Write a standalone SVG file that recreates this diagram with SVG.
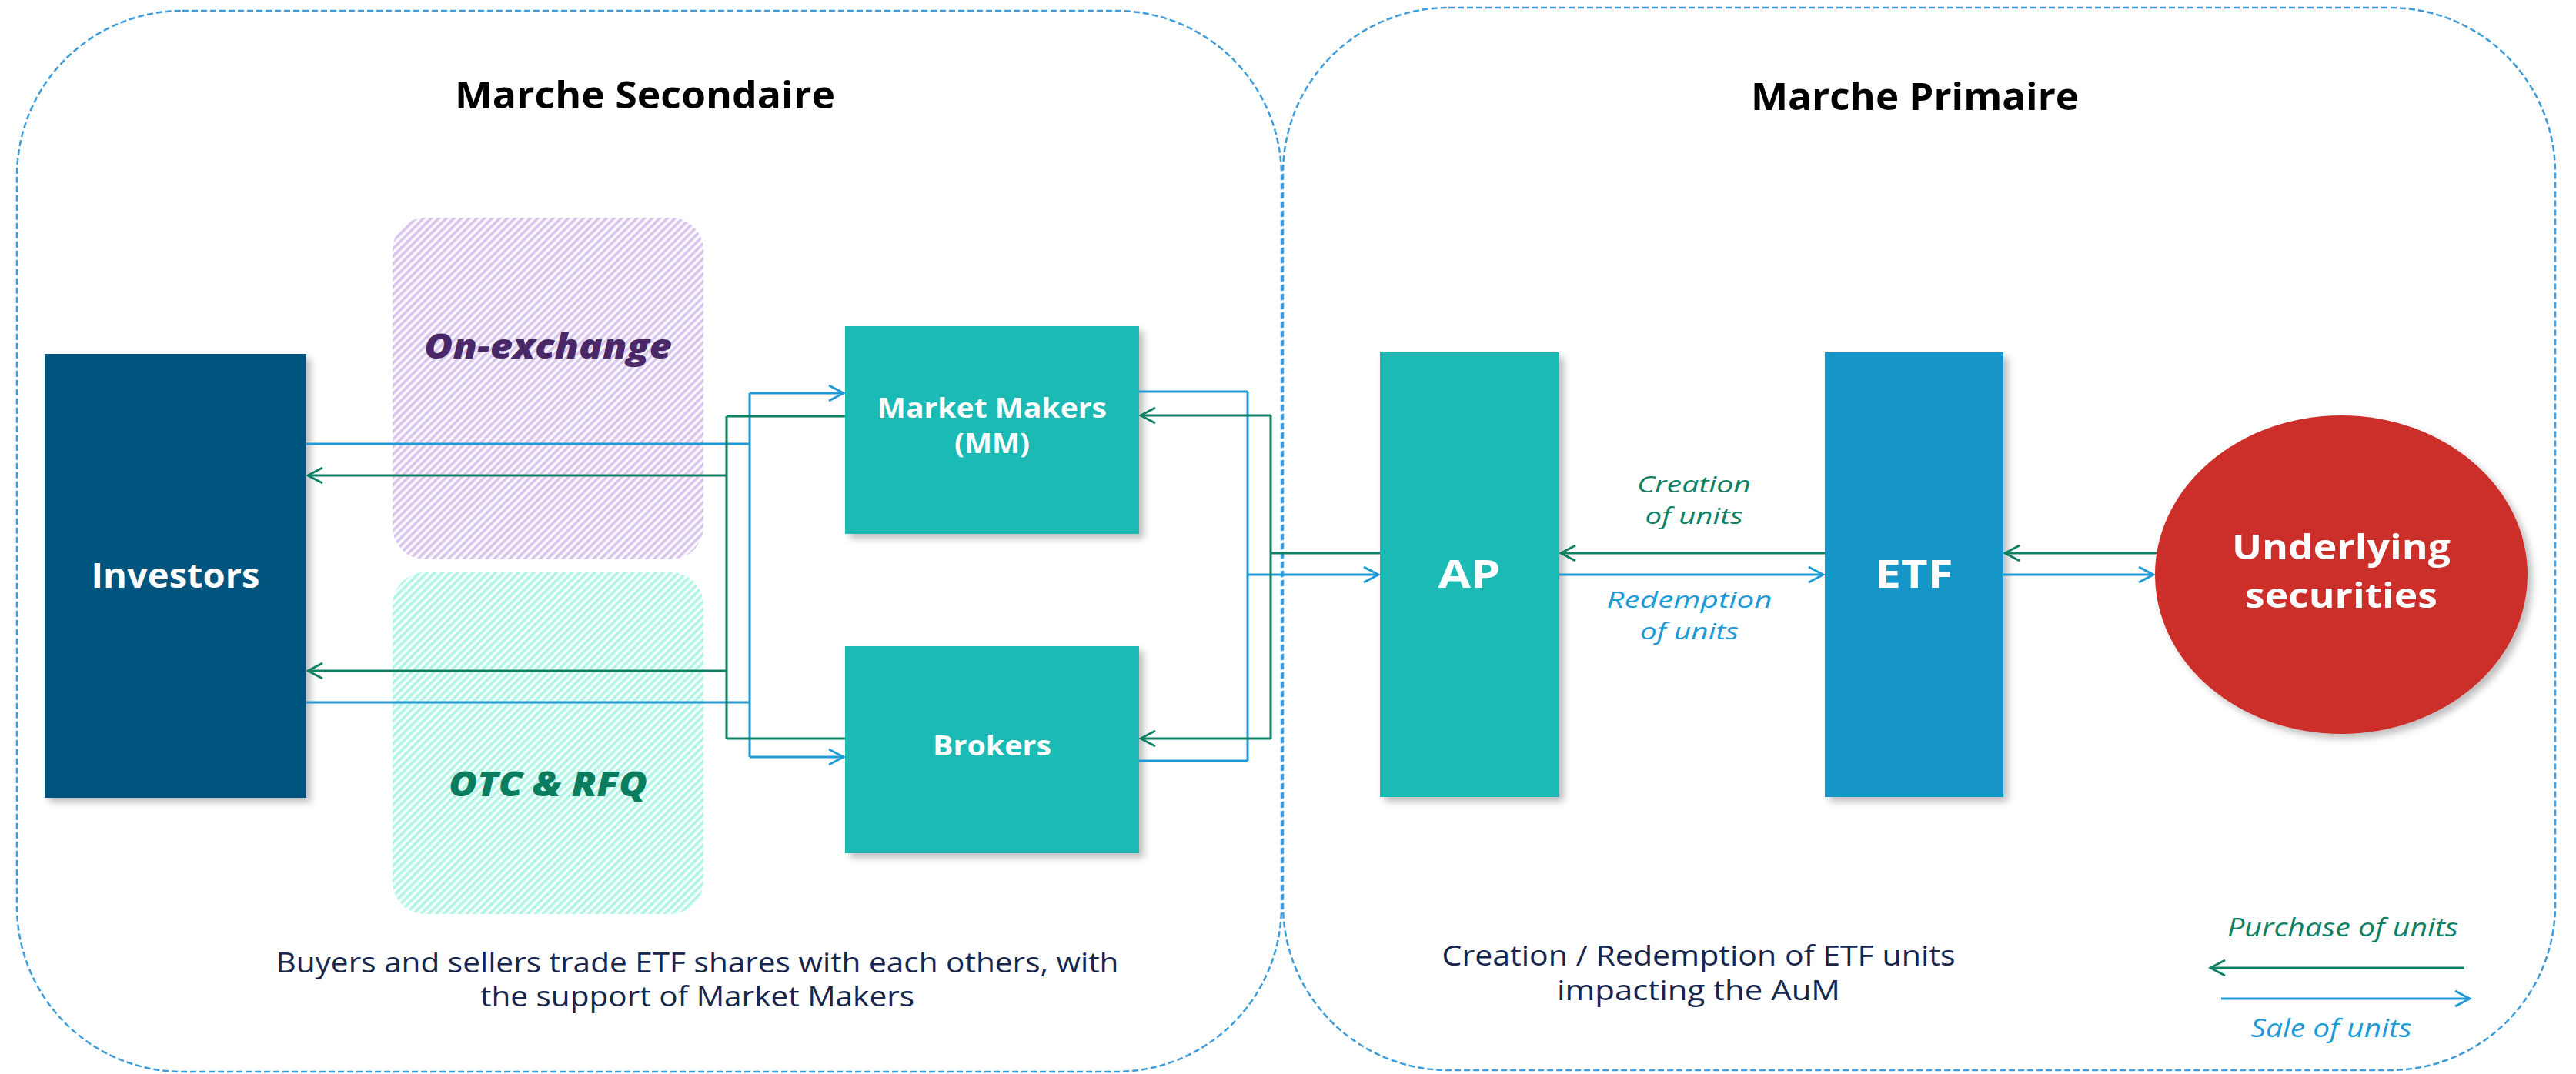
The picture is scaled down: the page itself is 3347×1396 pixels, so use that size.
<svg xmlns="http://www.w3.org/2000/svg" width="3347" height="1396" viewBox="0 0 3347 1396">
<defs>
<style>
.container{fill:none;stroke:#3E9CDB;stroke-width:2.5;stroke-dasharray:8 4}
.title{font-family:"Open Sans","Liberation Sans",sans-serif;font-weight:bold;font-size:48px;fill:#000;text-anchor:middle}
.nodeText{font-family:"Open Sans","Liberation Sans",sans-serif;font-weight:bold;fill:#fff;text-anchor:middle}
.zoneText{font-family:"Open Sans","Liberation Sans",sans-serif;font-weight:800;font-style:italic;font-size:44px;text-anchor:middle}
.lbl{font-family:"Open Sans","Liberation Sans",sans-serif;font-style:italic;font-weight:normal;font-size:33px;text-anchor:middle}
.lbl2{font-family:"Open Sans","Liberation Sans",sans-serif;font-style:italic;font-weight:normal;font-size:29px;text-anchor:middle}
.desc{font-family:"Open Sans","Liberation Sans",sans-serif;font-size:36px;fill:#17264D;text-anchor:middle}
.g{stroke:#0E8064;stroke-width:3;fill:none}
.b{stroke:#1E9AD6;stroke-width:3;fill:none}
.ga{stroke:#0E8064;stroke-width:3;fill:none;marker-end:url(#arrG)}
.ba{stroke:#1E9AD6;stroke-width:3;fill:none;marker-end:url(#arrB)}
.teal{fill:#1ABAB4}
</style>
<marker id="arrG" viewBox="-22 -13 25 26" refX="0" refY="0" markerWidth="25" markerHeight="26" markerUnits="userSpaceOnUse" orient="auto">
<path d="M-19,-10 L0,0 L-19,10" fill="none" stroke="#0E8064" stroke-width="3"/>
</marker>
<marker id="arrB" viewBox="-22 -13 25 26" refX="0" refY="0" markerWidth="25" markerHeight="26" markerUnits="userSpaceOnUse" orient="auto">
<path d="M-19,-10 L0,0 L-19,10" fill="none" stroke="#1E9AD6" stroke-width="3"/>
</marker>
<pattern id="hatchP" patternUnits="userSpaceOnUse" width="7" height="7" patternTransform="rotate(45)">
<rect width="7" height="7" fill="#FBF8FE"/>
<rect x="0" y="0" width="3.5" height="7" fill="#D7C4EB"/>
</pattern>
<pattern id="hatchM" patternUnits="userSpaceOnUse" width="7" height="7" patternTransform="rotate(45)">
<rect width="7" height="7" fill="#F5FFFC"/>
<rect x="0" y="0" width="3.5" height="7" fill="#B0F4E5"/>
</pattern>
<filter id="shadow" x="-20%" y="-20%" width="150%" height="150%">
<feDropShadow dx="6" dy="6" stdDeviation="5" flood-color="#000" flood-opacity="0.25"/>
</filter>
</defs>
<rect width="3347" height="1396" fill="#fff"/>

<g id="secondary-market">
<rect class="container" x="22" y="14" width="1643" height="1379" rx="215" ry="215"/>
<text class="title" x="838" y="141" textLength="494" lengthAdjust="spacingAndGlyphs">Marche Secondaire</text>
</g>
<g id="primary-market">
<rect class="container" x="1667" y="10" width="1653" height="1381" rx="215" ry="215"/>
<text class="title" x="2488" y="143" textLength="426" lengthAdjust="spacingAndGlyphs">Marche Primaire</text>
</g>

<g id="on-exchange">
<rect x="510" y="283" width="404" height="444" rx="42" ry="42" fill="url(#hatchP)"/>
<text class="zoneText" x="712" y="466" fill="#4A2868" textLength="322" lengthAdjust="spacingAndGlyphs">On-exchange</text>
</g>
<g id="otc-rfq">
<rect x="510" y="744" width="404" height="444" rx="42" ry="42" fill="url(#hatchM)"/>
<text class="zoneText" x="712" y="1035" fill="#0A7D5E" textLength="258" lengthAdjust="spacingAndGlyphs">OTC &amp; RFQ</text>
</g>

<g id="investors">
<rect x="58" y="460" width="340" height="577" fill="#02547F" filter="url(#shadow)"/>
<text class="nodeText" x="228" y="764" font-size="44" textLength="219" lengthAdjust="spacingAndGlyphs">Investors</text>
</g>
<g id="market-makers">
<rect class="teal" x="1098" y="424" width="382" height="270" filter="url(#shadow)"/>
<text class="nodeText" x="1289" y="543" font-size="35" textLength="298" lengthAdjust="spacingAndGlyphs">Market Makers</text>
<text class="nodeText" x="1289" y="589" font-size="35" textLength="98" lengthAdjust="spacingAndGlyphs">(MM)</text>
</g>
<g id="brokers">
<rect class="teal" x="1098" y="840" width="382" height="269" filter="url(#shadow)"/>
<text class="nodeText" x="1289" y="982" font-size="35" textLength="154" lengthAdjust="spacingAndGlyphs">Brokers</text>
</g>
<g id="ap">
<rect class="teal" x="1793" y="458" width="233" height="578" filter="url(#shadow)"/>
<text class="nodeText" x="1909" y="764" font-size="50" textLength="81" lengthAdjust="spacingAndGlyphs">AP</text>
</g>
<g id="etf">
<rect x="2371" y="458" width="232" height="578" fill="#1596C8" filter="url(#shadow)"/>
<text class="nodeText" x="2487" y="764" font-size="50" textLength="101" lengthAdjust="spacingAndGlyphs">ETF</text>
</g>
<g id="underlying">
<ellipse cx="3042" cy="747" rx="242" ry="207" fill="#CC2F2B" filter="url(#shadow)"/>
<text class="nodeText" x="3042" y="727" font-size="45" textLength="284" lengthAdjust="spacingAndGlyphs">Underlying</text>
<text class="nodeText" x="3042" y="790" font-size="45" textLength="250" lengthAdjust="spacingAndGlyphs">securities</text>
</g>

<g id="connectors">
<path class="b" d="M398,577 H974 M398,913 H974 M974,511 V984"/>
<path class="ba" d="M974,511 H1096"/>
<path class="ba" d="M974,984 H1096"/>
<path class="g" d="M1098,541 H944 M1098,960 H944 M944,541 V960"/>
<path class="ga" d="M944,618 H400"/>
<path class="ga" d="M944,872 H400"/>
<path class="b" d="M1480,509 H1621 M1480,989 H1621 M1621,509 V989"/>
<path class="ba" d="M1621,747 H1791"/>
<path class="g" d="M1793,719 H1651 M1651,540 V960"/>
<path class="ga" d="M1651,540 H1482"/>
<path class="ga" d="M1651,960 H1482"/>
<path class="ga" d="M2371,719 H2028"/>
<path class="ba" d="M2026,747 H2369"/>
<path class="ga" d="M2802,719 H2605"/>
<path class="ba" d="M2603,747 H2798"/>
<path class="ga" d="M3202,1258 H2872"/>
<path class="ba" d="M2886,1298 H3209"/>
</g>

<g id="labels">
<text class="lbl2" x="2201" y="640" fill="#0E8064" textLength="148" lengthAdjust="spacingAndGlyphs">Creation</text>
<text class="lbl2" x="2201" y="681" fill="#0E8064" textLength="127" lengthAdjust="spacingAndGlyphs">of units</text>
<text class="lbl2" x="2195" y="790" fill="#1E9AD6" textLength="215" lengthAdjust="spacingAndGlyphs">Redemption</text>
<text class="lbl2" x="2195" y="831" fill="#1E9AD6" textLength="128" lengthAdjust="spacingAndGlyphs">of units</text>
<text class="desc" x="906" y="1264" textLength="1095" lengthAdjust="spacingAndGlyphs">Buyers and sellers trade ETF shares with each others, with</text>
<text class="desc" x="906" y="1308" textLength="564" lengthAdjust="spacingAndGlyphs">the support of Market Makers</text>
<text class="desc" x="2207" y="1255" textLength="667" lengthAdjust="spacingAndGlyphs">Creation / Redemption of ETF units</text>
<text class="desc" x="2207" y="1300" textLength="368" lengthAdjust="spacingAndGlyphs">impacting the AuM</text>
<text class="lbl" x="3044" y="1217" fill="#0E8064" textLength="300" lengthAdjust="spacingAndGlyphs">Purchase of units</text>
<text class="lbl" x="3029" y="1348" fill="#1E9AD6" textLength="209" lengthAdjust="spacingAndGlyphs">Sale of units</text>
</g>
</svg>
